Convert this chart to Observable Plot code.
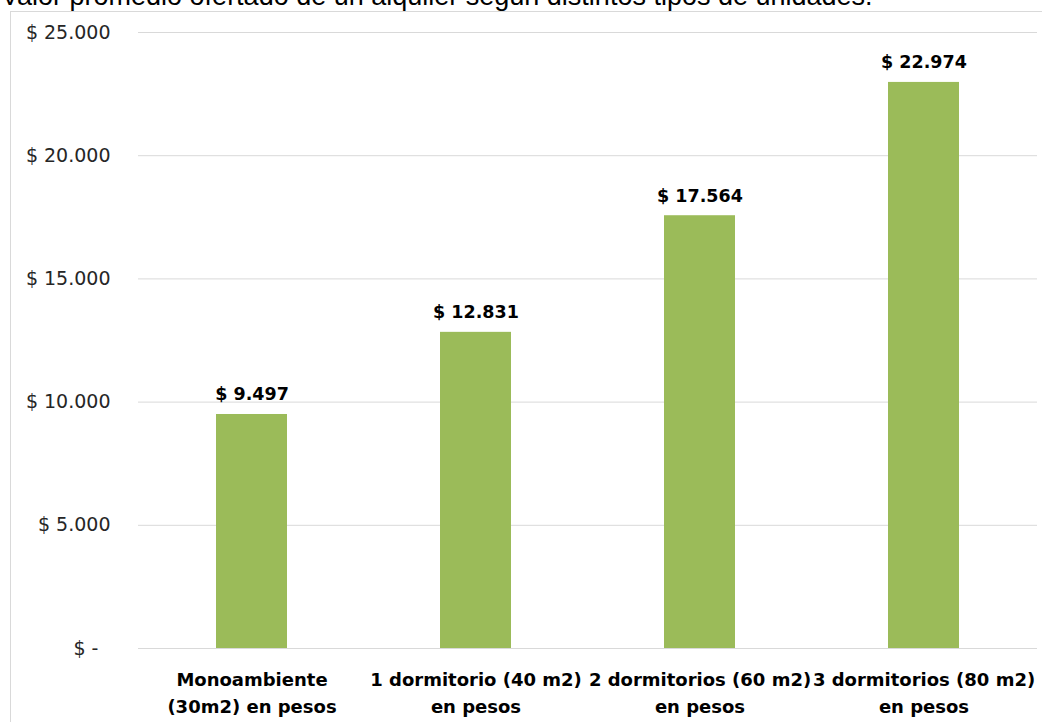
<!DOCTYPE html>
<html>
<head>
<meta charset="utf-8">
<script src="https://cdn.jsdelivr.net/npm/d3@7"></script>
<script src="https://cdn.jsdelivr.net/npm/@observablehq/plot@0.6"></script>
<style>
  html, body { margin: 0; padding: 0; background: #fff; overflow: hidden; }
  #wrap { position: relative; width: 1042px; height: 722px; overflow: hidden; }
  #title { position: absolute; left: 1px; top: -17px; font: 27px "Liberation Sans", Arial, sans-serif; line-height: 27px; color: #000; white-space: nowrap; }
  #frame { position: absolute; left: 10px; top: 11px; width: 1100px; height: 800px; border: 1px solid #d9d9d9; box-sizing: border-box; }
  #chart { position: absolute; left: 0; top: 0; }
</style>
</head>
<body>
<div id="wrap">
  <div id="frame"></div>
  <div id="chart"></div>
  <div id="title">Valor promedio ofertado de un alquiler según distintos tipos de unidades.</div>
</div>
<script>
const categories = ["Monoambiente\n(30m2) en pesos", "1 dormitorio (40 m2)\nen pesos", "2 dormitorios (60 m2)\nen pesos", "3 dormitorios (80 m2)\nen pesos"];
const values = [9497, 12831, 17564, 22974];
const yTicks = [0, 5000, 10000, 15000, 20000, 25000];

const data = categories.map((c, i) => ({category: c, value: values[i]}));
const fmtNum = d => d3.format(",")(d).replace(/,/g, ".");
const yFmt = d => d === 0 ? "$ -\u00a0\u00a0" : "$ " + fmtNum(d);
const font = "'DejaVu Sans', Verdana, sans-serif";

const chart = Plot.plot({
  width: 1042,
  height: 722,
  marginLeft: 138,
  marginRight: 5,
  marginTop: 32,
  marginBottom: 74,
  style: {fontFamily: font, background: "transparent", overflow: "visible"},
  x: {domain: categories, paddingInner: 0.684, paddingOuter: 0.342, label: null},
  y: {domain: [0, 25000], label: null},
  marks: [
    Plot.ruleY(yTicks, {stroke: "#d9d9d9", strokeWidth: 1}),
    Plot.barY(data, {x: "category", y: "value", fill: "#9bbb59"}),
    Plot.text(data, {x: "category", y: "value", text: d => "$ " + fmtNum(d.value), dy: -14, lineAnchor: "bottom", fontSize: 17.5, fontWeight: "bold", fill: "#000"}),
    Plot.axisY({ticks: yTicks, tickFormat: yFmt, tickSize: 0, tickPadding: 28, fontSize: 19, color: "#262626", label: null}),
    Plot.axisX({tickSize: 0, tickPadding: 18, fontSize: 18, fontWeight: "bold", lineHeight: 1.5, color: "#000", label: null})
  ]
});
document.getElementById("chart").appendChild(chart);
</script>
</body>
</html>
